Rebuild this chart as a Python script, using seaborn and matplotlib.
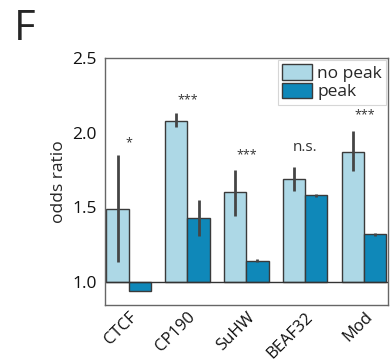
import matplotlib
matplotlib.use("Agg")
import matplotlib.pyplot as plt
import seaborn as sns
import pandas as pd
import numpy as np

# Insulator proteins and odds ratios for domains without / with a peak
factors = ["CTCF", "CP190", "SuHW", "BEAF32", "Mod"]
conditions = ["no peak", "peak"]
odds_no_peak = [1.49, 2.08, 1.60, 1.69, 1.87]
odds_peak = [0.94, 1.43, 1.14, 1.58, 1.32]
ci_low_no_peak = [1.13, 2.04, 1.44, 1.61, 1.74]
ci_high_no_peak = [1.85, 2.13, 1.75, 1.77, 2.01]
ci_low_peak = [0.94, 1.31, 1.13, 1.57, 1.31]
ci_high_peak = [0.94, 1.55, 1.15, 1.59, 1.33]
signif = ["*", "***", "***", "n.s.", "***"]
signif_y = [1.93, 2.22, 1.85, 1.90, 2.12]

baseline = 1.0
colors = ["#add8e6", "#0f88b9"]

df = pd.DataFrame({
    "factor": factors * 2,
    "condition": [conditions[0]] * len(factors) + [conditions[1]] * len(factors),
    "odds": odds_no_peak + odds_peak,
})

sns.set_style("white")
plt.rcParams["font.family"] = ["Open Sans", "DejaVu Sans"]

fig = plt.figure(figsize=(3.91, 3.62), dpi=100)
ax = fig.add_axes([0.2685, 0.1575, 0.7235, 0.6825])

sns.barplot(data=df, x="factor", y="odds", hue="condition", order=factors,
            hue_order=conditions, palette=colors, saturation=1, errorbar=None,
            width=0.75, edgecolor="#3a3a3a", linewidth=1.0, ax=ax)

# bars rise (or fall) from an odds ratio of 1
bars = [p for p in ax.patches if p.get_width() > 0][:2 * len(factors)]
for p in bars:
    h = p.get_height()
    p.set_y(baseline)
    p.set_height(h - baseline)

lows = ci_low_no_peak + ci_low_peak
highs = ci_high_no_peak + ci_high_peak
vals = odds_no_peak + odds_peak
for p, v, lo, hi in zip(bars, vals, lows, highs):
    cx = p.get_x() + p.get_width() / 2
    if hi - lo > 0:
        ax.errorbar([cx], [v], yerr=[[v - lo], [hi - v]], fmt="none",
                    ecolor="#454545", elinewidth=2.0, capsize=0, zorder=5)

for i, (s, y) in enumerate(zip(signif, signif_y)):
    ax.text(i, y, s, ha="center", va="center",
            fontsize=11 if s == "n.s." else 9, color="#333333")

ax.axhline(baseline, color="#333333", lw=1.0, zorder=1)

ax.set_ylim(0.845, 2.5)
ax.set_xlim(-0.4, len(factors) - 0.6)
ax.set_yticks([1.0, 1.5, 2.0, 2.5])
ax.set_yticklabels(["1.0", "1.5", "2.0", "2.5"])
ax.set_xlabel("")
ax.set_ylabel("odds ratio", fontsize=12.5, labelpad=4)
ax.tick_params(axis="y", length=3, width=1, color="#666666", labelsize=12.5,
               pad=3, labelcolor="#111111")
ax.tick_params(axis="x", length=0, labelsize=12, pad=3, labelcolor="#111111")
plt.setp(ax.get_xticklabels(), rotation=45, ha="right", rotation_mode="anchor")
for sp in ax.spines.values():
    sp.set_color("#666666")
    sp.set_linewidth(1.0)

leg = ax.legend(loc="upper right", fontsize=12.5, frameon=True, fancybox=False,
                borderpad=0.25, handlelength=1.7, handleheight=1.0,
                handletextpad=0.3, labelspacing=0.05, borderaxespad=0.1)
leg.get_frame().set_edgecolor("#cccccc")
leg.get_frame().set_linewidth(0.8)

fig.text(0.036, 0.978, "F", fontsize=30, va="top", ha="left")

fig.savefig("out.png", dpi=100)
